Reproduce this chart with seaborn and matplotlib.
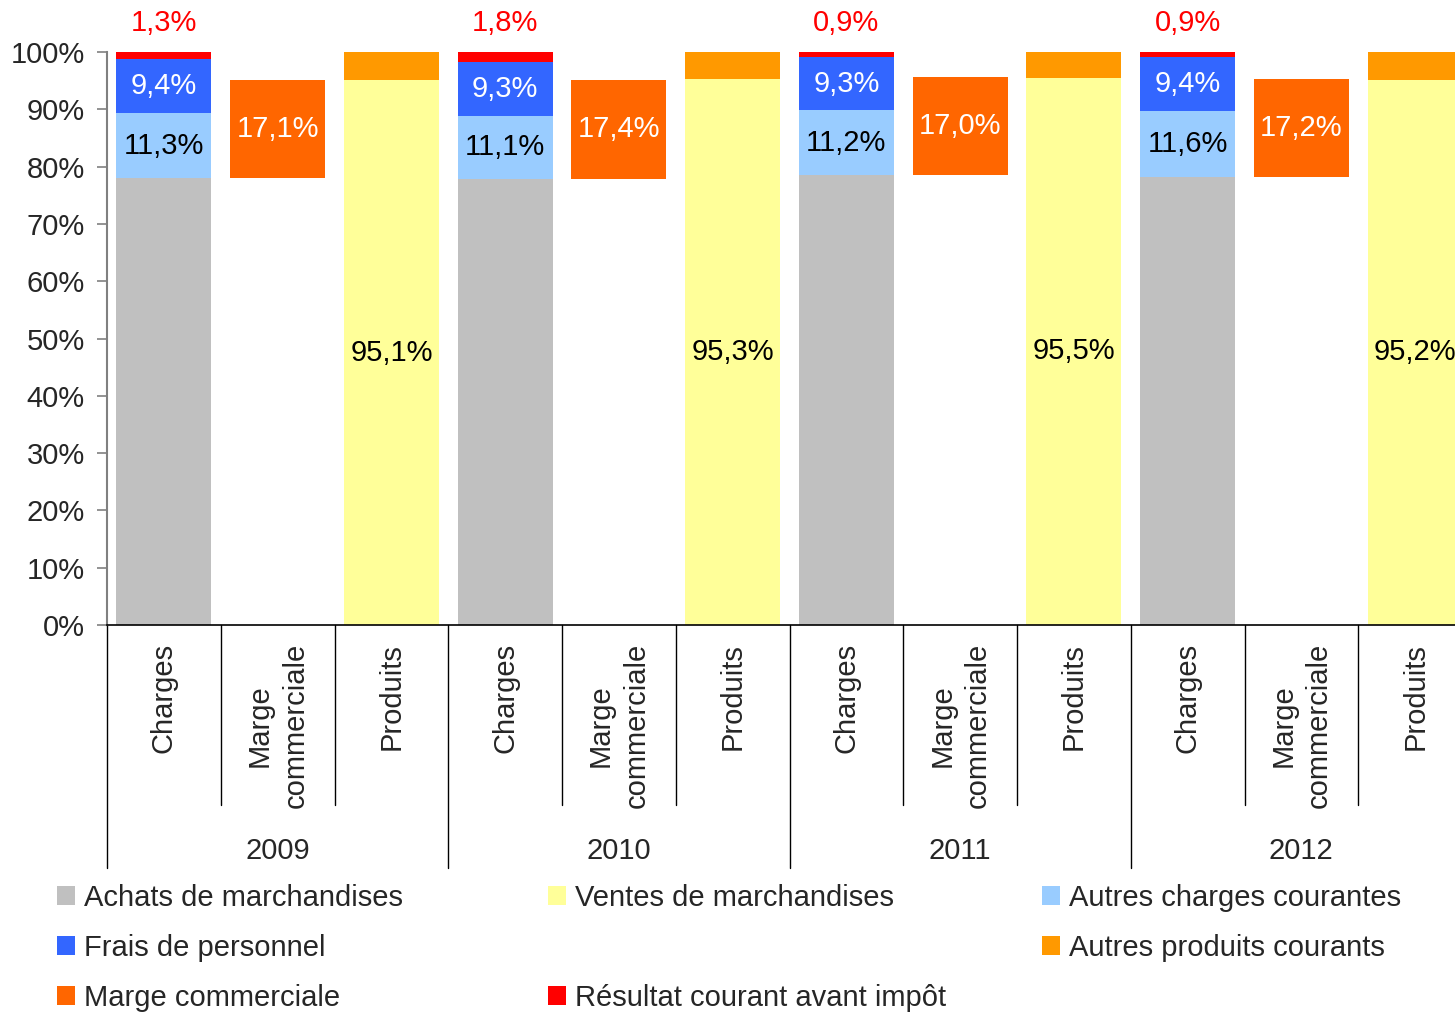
import numpy as np
import pandas as pd
import matplotlib
matplotlib.use("Agg")
import matplotlib.pyplot as plt
import matplotlib.transforms as mtransforms
from matplotlib.patches import Patch
import seaborn as sns

years = ["2009", "2010", "2011", "2012"]
slots = ["Charges", "Marge\ncommerciale", "Produits"]

achats = [78.0, 77.8, 78.6, 78.1]
autres_charges = [11.3, 11.1, 11.2, 11.6]
frais_personnel = [9.4, 9.3, 9.3, 9.4]
resultat = [1.3, 1.8, 0.9, 0.9]
marge = [17.1, 17.4, 17.0, 17.2]
ventes = [95.1, 95.3, 95.5, 95.2]
autres_produits = [4.9, 4.7, 4.5, 4.8]

c_achats = "#C0C0C0"
c_autres_ch = "#99CCFF"
c_frais = "#3366FF"
c_resultat = "#FF0000"
c_marge = "#FF6600"
c_ventes = "#FFFF99"
c_autres_pr = "#FF9900"

sns.set_theme(style="white")
plt.rcParams["font.family"] = ["Liberation Sans", "DejaVu Sans"]

# one row per bar slot (year x Charges/Marge/Produits)
rows = []
for i, yr in enumerate(years):
    a, ac, f, r = achats[i], autres_charges[i], frais_personnel[i], resultat[i]
    rows.append(dict(pos=f"{yr}|C", achats=a, ac=ac, ac_b=a, fp=f, fp_b=a + ac,
                     res=r, res_b=a + ac + f, marge=0, marge_b=0, ventes=0, ap=0, ap_b=0))
    rows.append(dict(pos=f"{yr}|M", achats=0, ac=0, ac_b=0, fp=0, fp_b=0,
                     res=0, res_b=0, marge=marge[i], marge_b=a, ventes=0, ap=0, ap_b=0))
    rows.append(dict(pos=f"{yr}|P", achats=0, ac=0, ac_b=0, fp=0, fp_b=0,
                     res=0, res_b=0, marge=0, marge_b=0, ventes=ventes[i],
                     ap=autres_produits[i], ap_b=ventes[i]))
df = pd.DataFrame(rows)
order = list(df["pos"])

fig = plt.figure(figsize=(14.55, 10.16), dpi=100)
ax = fig.add_axes([107 / 1455, 391 / 1016, (1472 - 107) / 1455, 573 / 1016])

layers = [
    ("achats", None, c_achats),
    ("ac", "ac_b", c_autres_ch),
    ("fp", "fp_b", c_frais),
    ("res", "res_b", c_resultat),
    ("marge", "marge_b", c_marge),
    ("ventes", None, c_ventes),
    ("ap", "ap_b", c_autres_pr),
]
for col, bcol, colr in layers:
    kw = {}
    if bcol is not None:
        kw["bottom"] = df[bcol].to_numpy()
    sns.barplot(data=df, x="pos", y=col, order=order, color=colr, saturation=1,
                width=0.835, errorbar=None, linewidth=0, edgecolor="none", ax=ax, **kw)

def fmt(v):
    return f"{v:.1f}%".replace(".", ",")

fs = 21
for i in range(len(years)):
    xc, xm, xp = 3 * i, 3 * i + 1, 3 * i + 2
    a, ac, f, r = achats[i], autres_charges[i], frais_personnel[i], resultat[i]
    ax.text(xc, a + ac / 2, fmt(ac), ha="center", va="center", fontsize=fs, color="black")
    ax.text(xc, a + ac + f / 2, fmt(f), ha="center", va="center", fontsize=fs, color="white")
    ax.text(xc, 105.0, fmt(r), ha="center", va="center", fontsize=fs, color="#FF0000", clip_on=False)
    ax.text(xm, a + marge[i] / 2, fmt(marge[i]), ha="center", va="center", fontsize=fs, color="white")
    ax.text(xp, ventes[i] / 2, fmt(ventes[i]), ha="center", va="center", fontsize=fs, color="black")

ax.set_xlim(-0.5, 11.5)
ax.set_ylim(0, 100)
ax.set_yticks(range(0, 101, 10))
ax.set_yticklabels([f"{v}%" for v in range(0, 101, 10)], fontsize=fs)
ax.set_xticks(range(12))
ax.set_xticklabels(slots * 4, rotation=90, fontsize=fs, va="top", ha="center",
                   multialignment="center", linespacing=1.35)
ax.set_xlabel("")
ax.set_ylabel("")
ax.tick_params(axis="x", length=0, pad=13)
ax.tick_params(axis="y", length=7, width=1.2, color="#808080", direction="out", pad=9, left=True)

for s in ["top", "right"]:
    ax.spines[s].set_visible(False)
ax.spines["left"].set_color("#808080")
ax.spines["left"].set_linewidth(1.5)
ax.spines["bottom"].set_color("black")
ax.spines["bottom"].set_linewidth(1.2)

trans = mtransforms.blended_transform_factory(ax.transData, ax.transAxes)
for k in range(13):
    x = k - 0.5
    y0 = -0.424 if k % 3 == 0 else -0.314
    ax.plot([x, x], [0, y0], color="black", lw=1, transform=trans, clip_on=False)
for i, yr in enumerate(years):
    ax.text(3 * i + 1, -0.394, yr, ha="center", va="center", fontsize=fs, transform=trans)

blank = Patch(facecolor="none", edgecolor="none")
legend_cols = [
    (57, [(c_achats, "Achats de marchandises"), (c_frais, "Frais de personnel"),
          (c_marge, "Marge commerciale")]),
    (548, [(c_ventes, "Ventes de marchandises"), (None, " "),
           (c_resultat, "Résultat courant avant impôt")]),
    (1042, [(c_autres_ch, "Autres charges courantes"), (c_autres_pr, "Autres produits courants")]),
]
for xpix, entries in legend_cols:
    handles = [Patch(facecolor=c, edgecolor="none") if c else blank for c, _ in entries]
    labels = [l for _, l in entries]
    fig.legend(handles, labels, loc="upper left", bbox_to_anchor=(xpix / 1455, 1 - 884 / 1016),
               frameon=False, fontsize=fs, handlelength=0.62, handleheight=0.62,
               handletextpad=0.3, labelspacing=0.75, borderpad=0, borderaxespad=0)

fig.savefig("out.png", dpi=100)
